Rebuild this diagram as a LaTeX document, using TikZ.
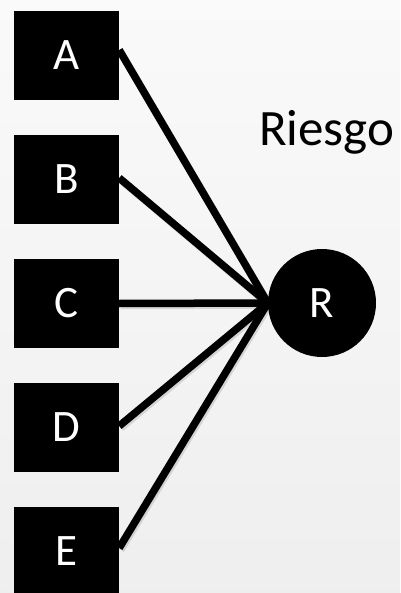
\documentclass[tikz,border=0pt]{standalone}
\usepackage{fontspec}
\setmainfont{Carlito}
\begin{document}
\begin{tikzpicture}[x=1pt,y=-1pt,
  box/.style={fill=black,draw=none,minimum width=105pt,minimum height=89pt,inner sep=0pt,text=white,font=\fontsize{45}{50}\selectfont},
  riskcircle/.style={circle,fill=black,minimum size=108pt,inner sep=0pt,text=white,font=\fontsize{45}{50}\selectfont},
  link/.style={line width=7.5pt,black},
  linkshadow/.style={line width=7.5pt,black,opacity=0.12}]
\shade[top color=gray!4,bottom color=gray!13] (0,0) rectangle (400,593);
\useasboundingbox (0,0) rectangle (400,593);
\node[box] (A) at (66.5,55.5) {A};
\node[box] (B) at (66.5,179.5) {B};
\node[box] (C) at (66.5,303.5) {C};
\node[box] (D) at (66.5,427.5) {D};
\node[box] (E) at (66.5,551.5) {E};
\node[riskcircle] (R) at (322,303) {R};
\node[anchor=base west,inner sep=0pt,font=\fontsize{51}{56}\selectfont] (riesgo) at (259,146) {Riesgo};
\coordinate (a) at ([yshift=5.5pt]A.east);
\coordinate (b) at ([yshift=1.5pt]B.east);
\coordinate (c) at (C.east);
\coordinate (d) at ([yshift=1.5pt]D.east);
\coordinate (e) at ([yshift=3.5pt]E.east);
\foreach \p in {a,b,c,d,e}{
  \draw[linkshadow] ([shift={(1.5,2)}]\p) -- ([shift={(1.5,2)}]R.west);
}
\foreach \p in {a,b,c,d,e}{
  \draw[link] (\p) -- (R.west);
}
\end{tikzpicture}
\end{document}
